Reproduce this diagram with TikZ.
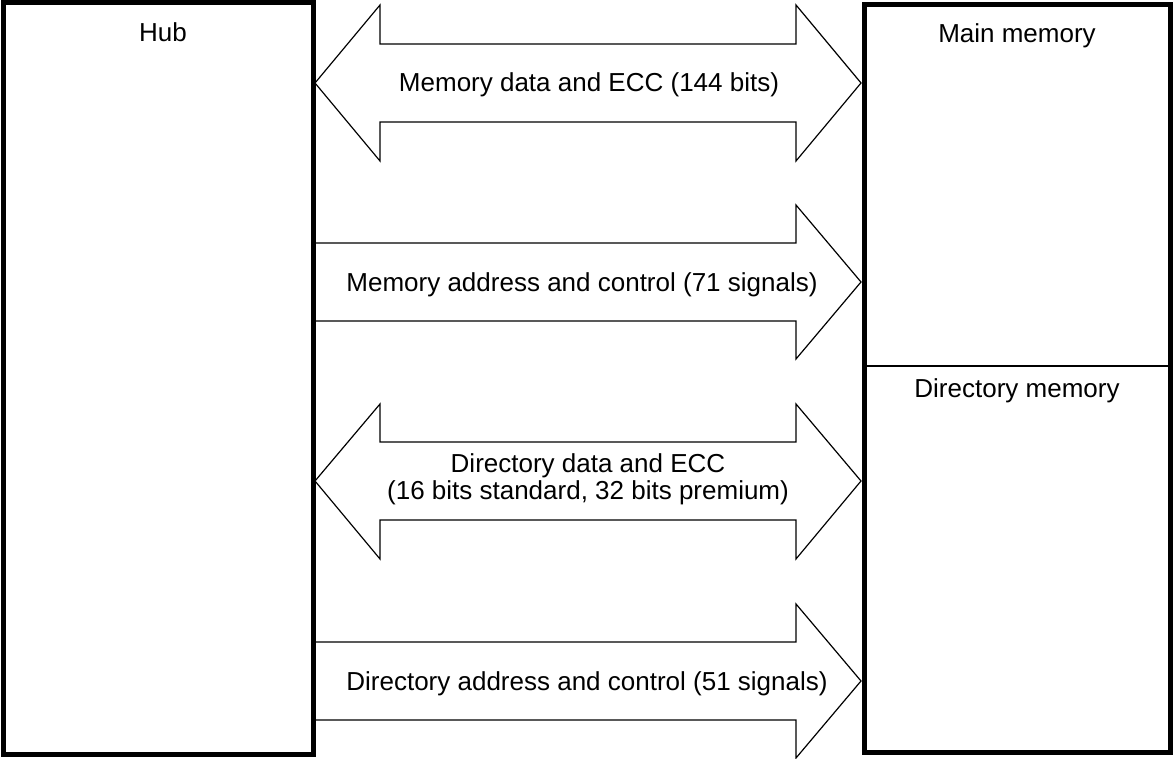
\documentclass[tikz,border=0pt]{standalone}
\usepackage{fontspec}
\setmainfont{Liberation Sans}
\begin{document}
\begin{tikzpicture}[x=1pt,y=-1pt,
  boxline/.style={line width=5pt},
  arrowline/.style={line width=1.2pt, line join=miter},
  lbl/.style={font=\fontsize{26}{27}\selectfont, inner sep=0pt, align=center, anchor=base}]
\useasboundingbox (0,0) rectangle (1173,759);
% boxes
\draw[boxline] (3,3) rectangle (313,754);
\draw[boxline] (864,5) rectangle (1170,752);
\draw[line width=2pt] (864,366) -- (1170,366);
\node[lbl] (hub) at (163,42) {Hub};
\node[lbl] (mainmem) at (1017,43) {Main memory};
\node[lbl] (dirmem) at (1017,397) {Directory memory};
% arrow 1 (double)
\draw[arrowline] (315,83) -- (380,5) -- (380,44) -- (796,44) -- (796,5) -- (861,83)
  -- (796,161) -- (796,122) -- (380,122) -- (380,161) -- cycle;
\node[lbl] (a1) at (589,92) {Memory data and ECC (144 bits)};
% arrow 2 (single)
\draw[arrowline] (315,243) -- (796,243) -- (796,205) -- (861,282) -- (796,359) -- (796,321) -- (315,321);
\node[lbl] (a2) at (582,292) {Memory address and control (71 signals)};
% arrow 3 (double)
\draw[arrowline] (315,481) -- (380,404) -- (380,442) -- (796,442) -- (796,404) -- (861,481)
  -- (796,559) -- (796,520) -- (380,520) -- (380,559) -- cycle;
\node[lbl] (a3) at (588,499) {Directory data and ECC\\(16 bits standard, 32 bits premium)};
% arrow 4 (single)
\draw[arrowline] (315,642) -- (796,642) -- (796,604) -- (861,681) -- (796,758) -- (796,720) -- (315,720);
\node[lbl] (a4) at (587,690) {Directory address and control (51 signals)};
\end{tikzpicture}
\end{document}
